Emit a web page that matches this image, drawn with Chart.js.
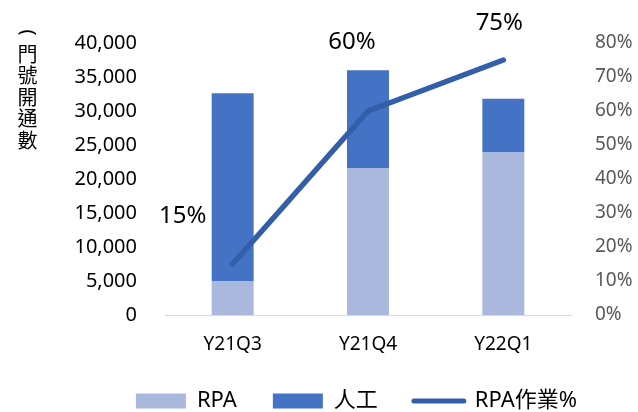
<!DOCTYPE html>
<html>
<head>
<meta charset="utf-8">
<script src="https://cdn.jsdelivr.net/npm/chart.js@4"></script>
<style>
  html, body { margin: 0; padding: 0; background: #fff; }
  #wrap { width: 638px; height: 412px; }
</style>
</head>
<body>
<div id="wrap"><canvas id="rpaChart"></canvas></div>
<script>
// quarterly activations split by RPA / manual, plus RPA share on the right axis
const categories = ['Y21Q3', 'Y21Q4', 'Y22Q1'];
const rpaCounts = [5000, 21600, 23900];
const manualCounts = [27600, 14400, 7900];
const rpaShare = [15, 60, 75];

const countMax = 40000;
const countStep = 5000;
const shareMax = 80;
const shareStep = 10;

const axisTitleChars = ['(', '門', '號', '開', '通', '數'];

const FONT = "'Noto Sans', 'Noto Sans CJK TC', sans-serif";

// vertical stacked-character title on the far left; brackets are turned sideways
const axisTitlePlugin = {
	id: 'axisTitle',
	afterDraw(chart, args, opts) {
		const ctx = chart.ctx;
		ctx.save();
		ctx.font = `20px 'Noto Sans CJK TC', sans-serif`;
		ctx.fillStyle = '#000';
		ctx.textAlign = 'center';
		ctx.textBaseline = 'middle';
		opts.chars.forEach((ch, i) => {
			const y = opts.y + i * opts.step;
			if (ch === '(' || ch === ')') {
				ctx.save();
				ctx.translate(opts.x, y);
				ctx.rotate(Math.PI / 2);
				ctx.font = `20px 'Noto Sans', sans-serif`;
				ctx.fillText(ch, 0, 0);
				ctx.restore();
			} else {
				ctx.fillText(ch, opts.x, y);
			}
		});
		ctx.restore();
	}
};

// percentage labels next to the line points
const shareLabelPlugin = {
	id: 'shareLabels',
	afterDatasetsDraw(chart, args, opts) {
		const idx = chart.data.datasets.findIndex(d => d.type === 'line');
		if (idx < 0) return;
		const meta = chart.getDatasetMeta(idx);
		const ctx = chart.ctx;
		ctx.save();
		ctx.font = `24px ${FONT}`;
		ctx.fillStyle = '#000';
		ctx.textAlign = 'center';
		ctx.textBaseline = 'middle';
		meta.data.forEach((pt, i) => {
			const [dx, dy] = opts.offsets[i] || [0, -30];
			ctx.fillText(chart.data.datasets[idx].data[i] + '%', pt.x + dx, pt.y + dy);
		});
		ctx.restore();
	}
};

const ctx = document.getElementById('rpaChart').getContext('2d');

new Chart(ctx, {
	data: {
		labels: categories,
		datasets: [
			{
				type: 'bar',
				label: 'RPA',
				data: rpaCounts,
				backgroundColor: '#a9b8dc',
				stack: 'count',
				yAxisID: 'y',
				barPercentage: 0.31,
				categoryPercentage: 1
			},
			{
				type: 'bar',
				label: '人工',
				data: manualCounts,
				backgroundColor: '#4472c4',
				stack: 'count',
				yAxisID: 'y',
				barPercentage: 0.31,
				categoryPercentage: 1
			},
			{
				type: 'line',
				label: 'RPA作業%',
				data: rpaShare,
				borderColor: '#335ea8',
				backgroundColor: '#335ea8',
				borderWidth: 5.5,
				borderCapStyle: 'round',
				borderJoinStyle: 'round',
				pointRadius: 0,
				tension: 0,
				yAxisID: 'y1',
				order: -1
			}
		]
	},
	options: {
		responsive: true,
		maintainAspectRatio: false,
		animation: false,
		layout: { padding: { top: 43, left: 75, right: 0, bottom: -10 } },
		plugins: {
			tooltip: { enabled: false },
			legend: {
				position: 'bottom',
				labels: {
					font: { family: FONT, size: 22 },
					color: '#000',
					usePointStyle: true,
					pointStyleWidth: 50,
					boxHeight: 15,
					padding: 36,
					generateLabels(chart) {
						const items = Chart.defaults.plugins.legend.labels.generateLabels(chart);
						items.sort((a, b) => a.datasetIndex - b.datasetIndex);
						items.forEach(it => {
							const ds = chart.data.datasets[it.datasetIndex];
							if (ds.type === 'line') {
								it.pointStyle = 'line';
								it.lineWidth = 5;
								it.strokeStyle = ds.borderColor;
								it.lineCap = 'round';
							} else {
								it.pointStyle = 'rect';
								it.lineWidth = 0;
							}
						});
						return items;
					}
				}
			},
			axisTitle: { chars: axisTitleChars, x: 27.5, y: 32.4, step: 21.6 },
			shareLabels: { offsets: [[-50, -48], [-16, -69], [-4, -37]] }
		},
		scales: {
			x: {
				stacked: true,
				grid: { display: false, drawTicks: false },
				border: { color: '#d9d9d9', width: 1 },
				ticks: { color: '#000', font: { family: FONT, size: 19 }, padding: 18 },
				afterFit: s => { s.height = 39; }
			},
			y: {
				stacked: true,
				position: 'left',
				min: 0,
				max: countMax,
				grid: { display: false, drawTicks: false },
				border: { display: false },
				ticks: {
					stepSize: countStep,
					color: '#000',
					font: { family: FONT, size: 20 },
					padding: 28,
					callback: v => v.toLocaleString('en-US')
				},
				afterFit: s => { s.width = 90; }
			},
			y1: {
				position: 'right',
				min: 0,
				max: shareMax,
				grid: { display: false, drawTicks: false },
				border: { display: false },
				ticks: {
					stepSize: shareStep,
					color: '#595959',
					font: { family: FONT, size: 19 },
					padding: 24,
					callback: v => v + '%'
				},
				afterFit: s => { s.width = 67; }
			}
		}
	},
	plugins: [axisTitlePlugin, shareLabelPlugin]
});
</script>
</body>
</html>
